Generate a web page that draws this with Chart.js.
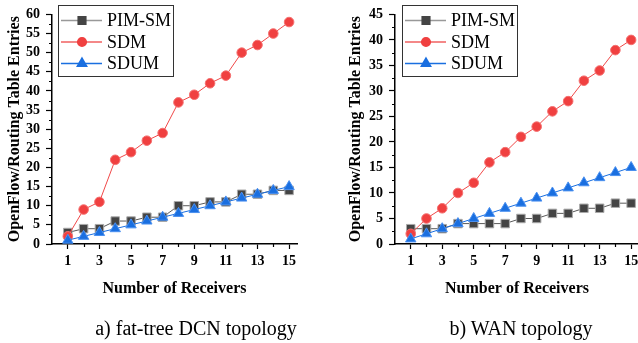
<!DOCTYPE html>
<html>
<head>
<meta charset="utf-8">
<script src="https://cdn.jsdelivr.net/npm/chart.js@4"></script>
<style>
body { margin: 0; width: 638px; height: 343px; overflow: hidden; background: #fff; position: relative; font-family: "Liberation Serif", serif; }
.box { position: absolute; top: 0; height: 343px; }
#boxA { left: 0; width: 318px; }
#boxB { left: 318px; width: 330px; }
.cap { position: absolute; top: 317px; font-size: 20px; line-height: 23px; white-space: nowrap; transform: translateX(-50%); color: #000; }
</style>
</head>
<body>
<div class="box" id="boxA"><canvas id="fatTree" width="318" height="343"></canvas></div>
<div class="box" id="boxB"><canvas id="wan" width="330" height="343"></canvas></div>
<div class="cap" style="left:196px">a) fat-tree DCN topology</div>
<div class="cap" style="left:521px">b) WAN topology</div>
<script>
// data
const receivers = [1, 2, 3, 4, 5, 6, 7, 8, 9, 10, 11, 12, 13, 14, 15];
const seriesNames = ['PIM-SM', 'SDM', 'SDUM'];

const dcnPim  = [3, 4, 4, 6, 6, 7, 7, 10, 10, 11, 11, 13, 13, 14, 14];
const dcnSdm  = [2, 9, 11, 22, 24, 27, 29, 37, 39, 42, 44, 50, 52, 55, 58];
const dcnSdum = [1, 2, 3, 4, 5, 6, 7, 8, 9, 10, 11, 12, 13, 14, 15];

const wanPim  = [3, 3, 3, 4, 4, 4, 4, 5, 5, 6, 6, 7, 7, 8, 8];
const wanSdm  = [2, 5, 7, 10, 12, 16, 18, 21, 23, 26, 28, 32, 34, 38, 40];
const wanSdum = [1, 2, 3, 4, 5, 6, 7, 8, 9, 10, 11, 12, 13, 14, 15];

const dcnYMax = 60;
const wanYMax = 45;
const yStep = 5;
const xMax = 15.5;
const xTickValues = [0, 1, 2, 3, 4, 5, 6, 7, 8, 9, 10, 11, 12, 13, 14, 15];

const serif = '"Liberation Serif", "Times New Roman", serif';

const styles = [
    { color: '#444444', line: '#5a5a5a', legendLine: '#999999', edge: '#aaaaaa', pointStyle: 'rect', radius: 6 },
    { color: '#f04040', line: '#f04848', legendLine: '#f06060', edge: '#f47070', pointStyle: 'circle', radius: 4.8 },
    { color: '#1a6fe0', line: '#1a6fe0', legendLine: '#1a6fe0', edge: '#4a90f0', pointStyle: 'triangle', radius: 6 }
];

function makeDatasets(lists) {
    return lists.map((vals, i) => ({
        label: seriesNames[i],
        data: receivers.map((r, k) => ({ x: r, y: vals[k] })),
        borderColor: styles[i].line,
        borderWidth: 1,
        backgroundColor: styles[i].color,
        pointStyle: styles[i].pointStyle,
        pointRadius: styles[i].radius,
        pointBackgroundColor: styles[i].color,
        pointBorderColor: styles[i].edge,
        pointBorderWidth: 1,
        legendLine: styles[i].legendLine,
        tension: 0,
        clip: false,
        order: 2 - i
    }));
}

const isOdd = v => Number.isInteger(v) && v % 2 === 1;

// short ticks between the labelled ones
const minorTicks = {
    id: 'minorTicks',
    afterDraw(chart) {
        const { ctx, scales: { x, y } } = chart;
        ctx.save();
        ctx.strokeStyle = '#000';
        ctx.lineWidth = 1.2;
        ctx.beginPath();
        for (let v = yStep / 2; v < y.max; v += yStep) {
            const py = Math.round(y.getPixelForValue(v)) + 0.5;
            ctx.moveTo(y.right - 3, py);
            ctx.lineTo(y.right, py);
        }
        for (let v = 2; v <= 14; v += 2) {
            const px = Math.round(x.getPixelForValue(v)) + 0.5;
            ctx.moveTo(px, x.top);
            ctx.lineTo(px, x.top + 3);
        }
        ctx.stroke();
        ctx.restore();
    }
};

// framed legend with line + marker samples
const boxLegend = {
    id: 'boxLegend',
    afterDraw(chart, args, opts) {
        const ctx = chart.ctx;
        const { x, y, w, h } = opts;
        ctx.save();
        ctx.strokeStyle = '#333';
        ctx.lineWidth = 1;
        ctx.strokeRect(x + 0.5, y + 0.5, w, h);
        chart.data.datasets.forEach((ds, i) => {
            const cy = y + 15.5 + i * 21.5;
            ctx.strokeStyle = ds.legendLine;
            ctx.lineWidth = 1.5;
            ctx.beginPath();
            ctx.moveTo(x + 3, cy);
            ctx.lineTo(x + 44, cy);
            ctx.stroke();
            ctx.fillStyle = ds.pointBackgroundColor;
            ctx.strokeStyle = ds.pointBackgroundColor;
            Chart.helpers.drawPoint(ctx, { pointStyle: ds.pointStyle, radius: ds.pointRadius * 0.9, borderWidth: 1, rotation: 0 }, x + 24, cy);
            ctx.fillStyle = '#000';
            ctx.font = '18px ' + serif;
            ctx.textBaseline = 'middle';
            ctx.fillText(ds.label, x + 49, cy + 1);
        });
        ctx.restore();
    }
};

function makeOptions(yMax, yWidth, yTitlePad, rightPad, legendX) {
    return {
        responsive: false,
        animation: false,
        layout: { padding: { left: 0, top: 8, right: rightPad, bottom: 0 } },
        plugins: {
            legend: { display: false },
            tooltip: { enabled: false },
            boxLegend: { x: legendX, y: 5, w: 115, h: 71 }
        },
        scales: {
            x: {
                type: 'linear',
                min: 0,
                max: xMax,
                afterBuildTicks(scale) { scale.ticks = xTickValues.map(v => ({ value: v })); },
                afterFit(scale) { scale.height = 99; },
                grid: {
                    drawOnChartArea: false,
                    tickLength: 5,
                    tickWidth: 1.2,
                    tickColor: c => isOdd(c.tick.value) ? '#000' : 'rgba(0,0,0,0)'
                },
                border: { color: '#000', width: 1.5 },
                ticks: {
                    autoSkip: false,
                    maxRotation: 0,
                    padding: 4,
                    color: '#000',
                    font: { family: serif, size: 14, weight: 'bold' },
                    callback: v => isOdd(v) ? String(v) : ''
                },
                title: {
                    display: true,
                    text: 'Number of Receivers',
                    color: '#000',
                    font: { family: serif, size: 16, weight: 'bold' },
                    padding: { top: 0, bottom: 45 }
                }
            },
            y: {
                min: 0,
                max: yMax,
                afterFit(scale) { scale.width = yWidth; },
                grid: { drawOnChartArea: false, tickLength: 6, tickWidth: 1.2, tickColor: '#000' },
                border: { color: '#000', width: 1.5 },
                ticks: {
                    stepSize: yStep,
                    autoSkip: false,
                    padding: 6,
                    color: '#000',
                    font: { family: serif, size: 14, weight: 'bold' }
                },
                title: {
                    display: true,
                    text: 'OpenFlow/Routing Table Entries',
                    color: '#000',
                    font: { family: serif, size: 16, weight: 'bold' },
                    padding: { top: yTitlePad, bottom: 0 }
                }
            }
        }
    };
}

const dcnChart = new Chart(document.getElementById('fatTree').getContext('2d'), {
    type: 'line',
    data: { datasets: makeDatasets([dcnPim, dcnSdm, dcnSdum]) },
    options: makeOptions(dcnYMax, 52, 5, 21, 58),
    plugins: [minorTicks, boxLegend]
});

const wanChart = new Chart(document.getElementById('wan').getContext('2d'), {
    type: 'line',
    data: { datasets: makeDatasets([wanPim, wanSdm, wanSdum]) },
    options: makeOptions(wanYMax, 77, 28, 9, 84),
    plugins: [minorTicks, boxLegend]
});
</script>
</body>
</html>
